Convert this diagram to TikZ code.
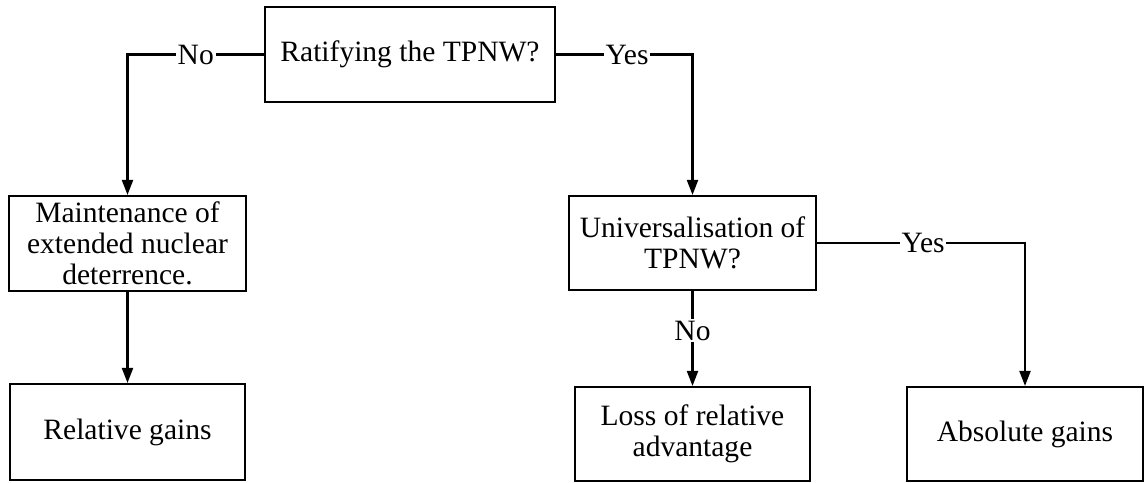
\documentclass[tikz,border=0pt]{standalone}
\usepackage{fontspec}
\setmainfont{Liberation Serif}
\usetikzlibrary{arrows.meta, positioning, calc}

\begin{document}
\begin{tikzpicture}[
		box/.style={draw, line width=1.2pt, align=center, inner sep=2pt, minimum height=1.9cm,
			font=\fontsize{16.8pt}{17.5pt}\selectfont},
		link/.style={line width=1.2pt, -{Triangle[length=0.3cm,width=0.22cm]}},
		choice/.style={fill=white, inner sep=1pt, font=\fontsize{16.8pt}{17.5pt}\selectfont}
	]
		\useasboundingbox (0,0) rectangle (22.9,-9.64);
		
		\node[box, minimum width=5.8cm] (ratify) at (8.2,-1.09) {Ratifying the TPNW?};
		\node[box, minimum width=4.74cm] (maint) at (2.55,-4.87) {Maintenance of\\extended nuclear\\deterrence.};
		\node[box, minimum width=4.94cm, minimum height=1.88cm] (univ) at (13.85,-4.86) {Universalisation of\\TPNW?};
		\node[box, minimum width=4.7cm, minimum height=1.92cm] (rel) at (2.55,-8.64) {Relative gains};
		\node[box, minimum width=4.7cm, minimum height=1.88cm] (loss) at (13.85,-8.68) {Loss of relative\\advantage};
		\node[box, minimum width=4.72cm, minimum height=1.88cm] (abs) at (20.5,-8.68) {Absolute gains};
		
		% Decisions
		\draw[link] (ratify.west) -| node[choice, pos=0.25] {No} (maint.north);
		\draw[link] (ratify.east) -| node[choice, pos=0.26] {Yes} (univ.north);
		\draw[link] (maint.south) -- (rel.north);
		\draw[link] (univ.south) -- node[choice, pos=0.42] {No} (loss.north);
		\draw[link] (univ.east) -| node[choice, pos=0.255] {Yes} (abs.north);
	  \end{tikzpicture}
\end{document}
